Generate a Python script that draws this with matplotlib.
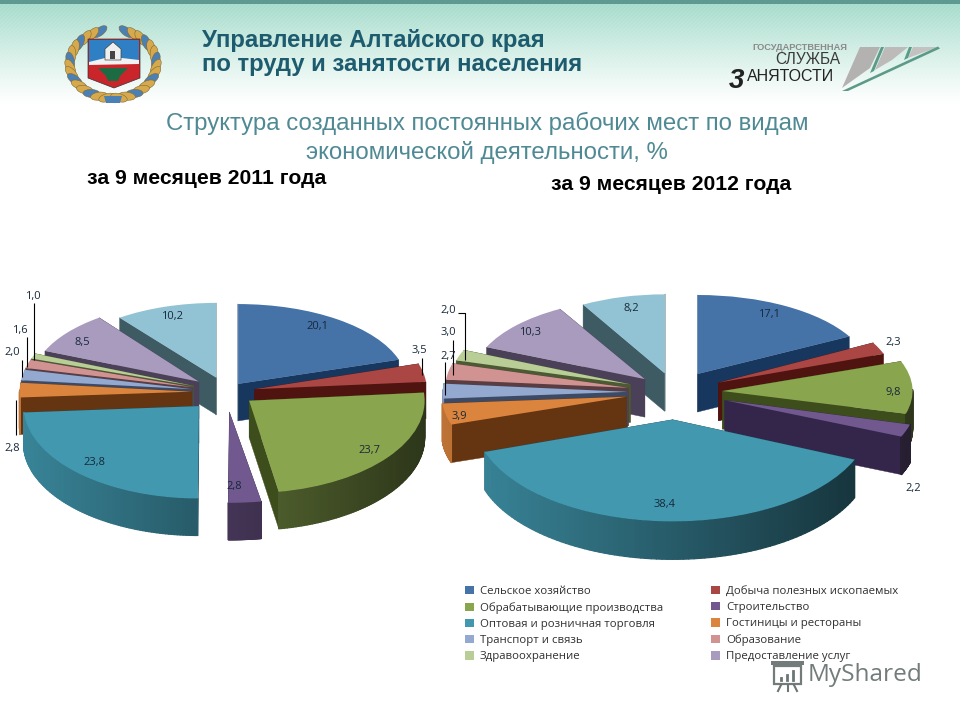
import numpy as np
import matplotlib
matplotlib.use("Agg")
import matplotlib.pyplot as plt
from matplotlib.patches import Polygon, Ellipse, Rectangle
from matplotlib.collections import PolyCollection
from matplotlib.colors import to_rgb
from matplotlib.transforms import Affine2D

W, H = 960, 720

# ---- data ----
categories = ["Сельское хозяйство", "Добыча полезных ископаемых", "Обрабатывающие производства",
              "Строительство", "Оптовая и розничная торговля", "Гостиницы и рестораны",
              "Транспорт и связь", "Образование", "Здравоохранение", "Предоставление услуг",
              "Прочие"]
values_2011 = [20.1, 3.5, 23.7, 2.8, 23.8, 2.8, 2.0, 1.6, 1.0, 8.5, 10.2]
values_2012 = [17.1, 2.3, 9.8, 2.2, 38.4, 3.9, 2.7, 3.0, 2.0, 10.3, 8.2]
title_org = ["Управление Алтайского края", "по труду и занятости населения"]
title_main = ["Структура созданных постоянных рабочих мест по видам", "экономической деятельности, %"]
subtitle_2011 = "за 9 месяцев 2011 года"
subtitle_2012 = "за 9 месяцев 2012 года"

# ---- styles ----
top_colors = ["#4572a7", "#aa4643", "#89a54e", "#71588f", "#4198af", "#db843d",
              "#93a9cf", "#d19392", "#b9cd96", "#a99bbd", "#92c3d4"]
cut_colors = ["#17375e", "#4f1310", "#3d4d1b", "#33264a", "#1f4a5a", "#653410",
              "#3c4a66", "#5a3d42", "#4c5a34", "#4a4058", "#3e5a63"]
explode_2011 = [0.12, 0.17, 0.17, 0.24, 0.23, 0.20, 0.20, 0.20, 0.20, 0.20, 0.18]
sx_2011 = [0.98, 1.00, 1.02, 1.10, 1.02, 1.00, 1.00, 1.00, 1.00, 0.97, 0.94]
sy_2011 = [0.95, 1.00, 1.10, 1.08, 1.10, 1.00, 1.00, 1.00, 1.00, 0.95, 0.89]
explode_2012 = [0.25, 0.27, 0.27, 0.30, 0.33, 0.28, 0.27, 0.27, 0.27, 0.23, 0.23]
sx_2012 = [0.98, 1.00, 1.08, 1.09, 1.125, 1.05, 1.05, 1.04, 1.03, 0.98, 0.94]
sy_2012 = [0.94, 1.00, 1.03, 1.10, 1.21, 1.05, 1.05, 1.04, 1.03, 0.96, 0.94]

labelpos_2011 = [(317, 327), (419, 350), (369, 451), (234, 487), (94, 462), (12, 449),
                 (12, 352), (20, 331), (33, 297), (82, 342), (172, 317)]
labelpos_2012 = [(769, 315), (893, 343), (893, 393), (913, 489), (665, 505), (459, 417),
                 (448, 356), (448, 333), (448, 311), (530, 333), (631, 308)]
leaders = [[(421.7, 358), (421.7, 375)], [(16, 400), (16, 435)], [(21.7, 360), (21.7, 377)],
           [(26.7, 337), (26.7, 367)], [(34, 303), (34, 360)],
           [(445, 362), (445, 395)], [(452.7, 340), (452.7, 375)],
           [(458, 313), (465, 313), (465, 360)]]

plt.rcParams["font.family"] = ["Liberation Sans", "DejaVu Sans"]
fig = plt.figure(figsize=(W / 100, H / 100), dpi=100, facecolor="white")

# ---- background ----
bg = fig.add_axes([0, 0, 1, 1], zorder=0)
bg.set_xlim(0, W); bg.set_ylim(H, 0); bg.axis("off")
yy, xx = np.mgrid[0:110, 0:W]
fade = np.clip(1 - (yy - 4) / 100.0, 0, 1) ** 1.15
stripes = ((xx + yy) % 4 < 2) * 0.07 * fade
top_c = np.array(to_rgb("#a5dccb"))
img = 1 - (1 - top_c)[None, None, :] * (fade - stripes)[..., None]
bg.imshow(np.clip(img, 0, 1), extent=(0, W, 110, 0), aspect="auto", zorder=0, interpolation="nearest")
bg.set_xlim(0, W); bg.set_ylim(H, 0)
bg.add_patch(Rectangle((0, 0), W, 4, fc="#5f9a90", ec="none", zorder=1))

# crest
cx, cy = 113, 64
for side in (-1, 1):
    for i, a in enumerate(np.linspace(-72, 82, 15)):
        t = np.deg2rad(a)
        x = cx + side * 43 * np.cos(t)
        y = cy + 34 * np.sin(t)
        ang = np.degrees(np.arctan2(34 * np.cos(t), -side * 43 * np.sin(t))) + side * 22
        bg.add_patch(Ellipse((x, y), 17, 8, angle=ang, fc="#d6a94c" if i % 3 else "#4a80b4",
                             ec="#7d6a3a", lw=0.4, zorder=2))
bg.add_patch(Polygon([(104, 96), (122, 96), (120, 103), (106, 103)], fc="#4a80b4", ec="none", zorder=2))
bg.add_patch(Polygon([(88, 39), (140, 39), (140, 78), (114, 88), (88, 78)], fc="#c9252b", ec="#333", lw=0.5, zorder=3))
bg.add_patch(Polygon([(89, 40), (139, 40), (139, 60), (89, 62)], fc="#2f7fc4", ec="none", zorder=4))
bg.add_patch(Polygon([(89, 62), (105, 58), (122, 58), (139, 60), (139, 64), (89, 65)], fc="#f2f2f2", ec="none", zorder=4))
bg.add_patch(Polygon([(105, 60), (105, 49), (113, 42), (121, 49), (121, 60)], fc="#eef0f0", ec="#444", lw=0.5, zorder=5))
bg.add_patch(Rectangle((110, 51), 5, 8, fc="#444", ec="none", zorder=6))
bg.add_patch(Polygon([(98, 68), (128, 68), (120, 76), (118, 81), (108, 81), (106, 76)], fc="#1c6b43", ec="none", zorder=5))

# service logo
bg.add_patch(Polygon([(842, 88), (860, 47), (880, 47), (870, 68)], fc="#b4b2b0", ec="none", zorder=2))
bg.add_patch(Polygon([(875, 70), (885, 47), (908, 47), (892, 60)], fc="#bdbbb9", ec="none", zorder=2))
bg.add_patch(Polygon([(908, 58), (913, 47), (938, 47)], fc="#c4c2c0", ec="none", zorder=2))
bg.add_patch(Polygon([(842, 91), (938, 46.5), (940, 48.5), (848, 91)], fc="#5c9a88", ec="none", zorder=3))
bg.add_patch(Polygon([(870, 73), (881, 47), (884, 47), (874, 71)], fc="#5c9a88", ec="none", zorder=3))
bg.add_patch(Polygon([(904, 60), (909, 47), (912, 47), (908, 58)], fc="#5c9a88", ec="none", zorder=3))
bg.text(799.5, 47.5, "ГОСУДАРСТВЕННАЯ", ha="center", va="center", fontsize=6.7, color="#8a8a8a", weight="bold", zorder=4)
bg.text(840, 59, "СЛУЖБА", ha="right", va="center", fontsize=11.2, color="#3a3a3a", zorder=4)
bg.text(791, 76.5, "АНЯТОСТИ", ha="center", va="center", fontsize=11.5, color="#222222", zorder=4)
bg.text(736, 81, "3", ha="center", va="center", fontsize=20, color="#222222", style="italic", weight="bold", zorder=4)

# titles
bg.text(202, 41, title_org[0], ha="left", va="center", fontsize=17.2, weight="bold", color="#1d5b6e", zorder=4)
bg.text(202, 64.5, title_org[1], ha="left", va="center", fontsize=17.2, weight="bold", color="#1d5b6e", zorder=4)
bg.text(487, 123.5, title_main[0], ha="center", va="center", fontsize=17.25, color="#4f8a94", zorder=4)
bg.text(487, 152.5, title_main[1], ha="center", va="center", fontsize=17.25, color="#4f8a94", zorder=4)
bg.text(207, 178.5, subtitle_2011, ha="center", va="center", fontsize=15.2, weight="bold", color="black", zorder=4)
bg.text(671.5, 184.5, subtitle_2012, ha="center", va="center", fontsize=15.2, weight="bold", color="black", zorder=4)


def scaled(c, f):
    return tuple(np.clip(np.array(to_rgb(c)) * f, 0, 1))


def pie3d(values, explode, sx, sy, px_center, rx, ry, depth):
    hw, hh = rx * 1.5, ry * 2.4
    px, py = px_center
    ax = fig.add_axes([(px - hw) / W, 1 - (py + hh) / H, 2 * hw / W, 2 * hh / H], zorder=2)
    wedges, _ = ax.pie(values, explode=explode, startangle=90, counterclock=False,
                       colors=top_colors, radius=1.0)
    ax.set_aspect("auto")
    dz = depth / ry
    mids = []
    for w, s in zip(wedges, sy):
        m = np.deg2rad((w.theta1 + w.theta2) / 2)
        mids.append(w.center[1] + 0.6 * s * np.sin(m))
    order = np.argsort(mids)[::-1]
    for rank, i in enumerate(order):
        w = wedges[i]
        base = 10 + rank * 3
        c = np.array(w.center)
        w.set_radius(sx[i])
        w.set_edgecolor("none")
        # per-slice vertical stretch about the slice apex (perspective of the near side)
        ky = sy[i] / sx[i]
        w.set_transform(Affine2D().translate(-c[0], -c[1]).scale(1, ky).translate(c[0], c[1]) + ax.transData)
        th = np.deg2rad(np.linspace(w.theta1, w.theta2, 90))
        arc = np.c_[c[0] + sx[i] * np.cos(th), c[1] + sy[i] * np.sin(th)]
        down = np.array([0, -dz])
        cuts = [[c, arc[0], arc[0] + down, c + down], [c, arc[-1], arc[-1] + down, c + down]]
        ax.add_collection(PolyCollection(cuts, facecolors=cut_colors[i], edgecolors=cut_colors[i],
                                         linewidths=0.3, zorder=base))
        quads, fc = [], []
        for k in range(len(th) - 1):
            mid = (th[k] + th[k + 1]) / 2
            if np.sin(mid) < 0.02:
                quads.append([arc[k], arc[k + 1], arc[k + 1] + down, arc[k] + down])
                fc.append(scaled(top_colors[i], 0.60 - 0.27 * np.cos(mid)))
        if quads:
            ax.add_collection(PolyCollection(quads, facecolors=fc, edgecolors=fc, linewidths=0.9, zorder=base + 1))
        w.set_zorder(base + 2)
    ax.set_xlim(-hw / rx, hw / rx)
    ax.set_ylim(-hh / ry, hh / ry)
    return wedges


w11 = pie3d(values_2011, explode_2011, sx_2011, sy_2011, (226, 392), 172, 84, 37)
w12 = pie3d(values_2012, explode_2012, sx_2012, sy_2012, (675, 392), 176, 84, 38)

# overlay: data labels, leaders, legend, watermark
ov = fig.add_axes([0, 0, 1, 1], zorder=5)
ov.set_xlim(0, W); ov.set_ylim(H, 0); ov.axis("off"); ov.patch.set_alpha(0)
lab_font = ["Open Sans", "DejaVu Sans"]
for vals, pos in ((values_2011, labelpos_2011), (values_2012, labelpos_2012)):
    for v, (x, y) in zip(vals, pos):
        ov.text(x, y, f"{v:.1f}".replace(".", ","), ha="center", va="center",
                fontsize=8, color="#17283a", family=lab_font)
for pts in leaders:
    xs, ys = zip(*pts)
    ov.plot(xs, ys, color="black", lw=0.8, solid_capstyle="butt")

order = [0, 2, 4, 6, 8, 1, 3, 5, 7, 9]
handles = [Rectangle((0, 0), 1, 1, fc=top_colors[i], ec="none") for i in order]
leg = ov.legend(handles, [categories[i] for i in order], ncol=2, frameon=False,
                loc="upper left", bbox_to_anchor=(465 / W, 1 - 586 / H), bbox_transform=fig.transFigure,
                prop={"family": lab_font, "size": 8.2}, handlelength=0.75, handleheight=0.75,
                handletextpad=0.55, labelspacing=0.44, columnspacing=4.25,
                borderpad=0, borderaxespad=0, labelcolor="#303030")

# watermark
wm = "#6b7574"
ov.text(808, 675, "MyShared", ha="left", va="center", fontsize=17.6, color=wm, family=["Open Sans", "DejaVu Sans"], alpha=0.95)
ov.add_patch(Rectangle((774, 666), 27, 18, fc="white", ec=wm, lw=1.6, alpha=0.95))
ov.add_patch(Rectangle((771, 661), 33, 4, fc=wm, ec="none", alpha=0.95))
ov.plot([781, 781], [680, 678], color=wm, lw=2)
ov.plot([787, 787], [680, 675], color=wm, lw=2)
ov.plot([793, 793], [680, 671], color=wm, lw=2)
ov.plot([781, 778], [685, 691], color=wm, lw=1.5)
ov.plot([794, 797], [685, 691], color=wm, lw=1.5)
ov.plot([787.5, 787.5], [685, 691], color=wm, lw=1.5)

fig.savefig("out.png", dpi=100, facecolor="white")
